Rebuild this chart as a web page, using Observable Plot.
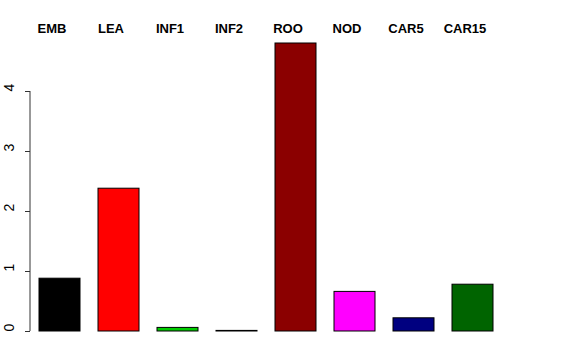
<!DOCTYPE html>
<html>
<head>
<meta charset="utf-8">
<script src="https://cdn.jsdelivr.net/npm/d3@7"></script>
<script src="https://cdn.jsdelivr.net/npm/@observablehq/plot@0.6"></script>
<style>
  html, body { margin: 0; padding: 0; background: #fff; }
  svg { font-family: "Liberation Sans", Arial, sans-serif; }
</style>
</head>
<body>
<div id="chart"></div>
<script>
const categories = ["EMB", "LEA", "INF1", "INF2", "ROO", "NOD", "CAR5", "CAR15"];
const values = [0.88, 2.38, 0.06, 0.01, 4.80, 0.66, 0.22, 0.78];
const colors = ["black", "red", "#00CD00", "blue", "darkred", "magenta", "navy", "darkgreen"];
const yTicks = [0, 1, 2, 3, 4];

const data = categories.map((c, i) => ({cat: c, value: values[i], color: colors[i]}));

function axisLine(index, scales, values, dims) {
  const line = document.createElementNS("http://www.w3.org/2000/svg", "line");
  const x = dims.marginLeft - 8;
  line.setAttribute("x1", x);
  line.setAttribute("x2", x);
  line.setAttribute("y1", scales.y(yTicks[0]));
  line.setAttribute("y2", scales.y(yTicks[yTicks.length - 1]));
  line.setAttribute("stroke", "#333");
  line.setAttribute("stroke-width", 1);
  return line;
}

const chart = Plot.plot({
  width: 576,
  height: 360,
  marginLeft: 38,
  marginRight: 82,
  marginTop: 31,
  marginBottom: 29,
  x: {type: "band", domain: categories, paddingInner: 0.31, paddingOuter: 0, axis: null},
  y: {domain: [0, 5], axis: null},
  marks: [
    Plot.barY(data, {x: "cat", y: "value", fill: d => d.color, stroke: "black", strokeWidth: 1}),
    axisLine,
    Plot.axisY({ticks: yTicks, tickSize: 5, tickFormat: () => "", dx: -8, stroke: "#333", label: null}),
    Plot.text(yTicks, {y: d => d, text: d => String(d), frameAnchor: "left", dx: -29, rotate: -90, fontSize: 14, fill: "black"}),
    Plot.text(categories, {x: d => d, text: d => d, frameAnchor: "top", dy: -8, dx: -8, fontSize: 13, fontWeight: "bold", fill: "black"})
  ]
});

document.getElementById("chart").appendChild(chart);
</script>
</body>
</html>
